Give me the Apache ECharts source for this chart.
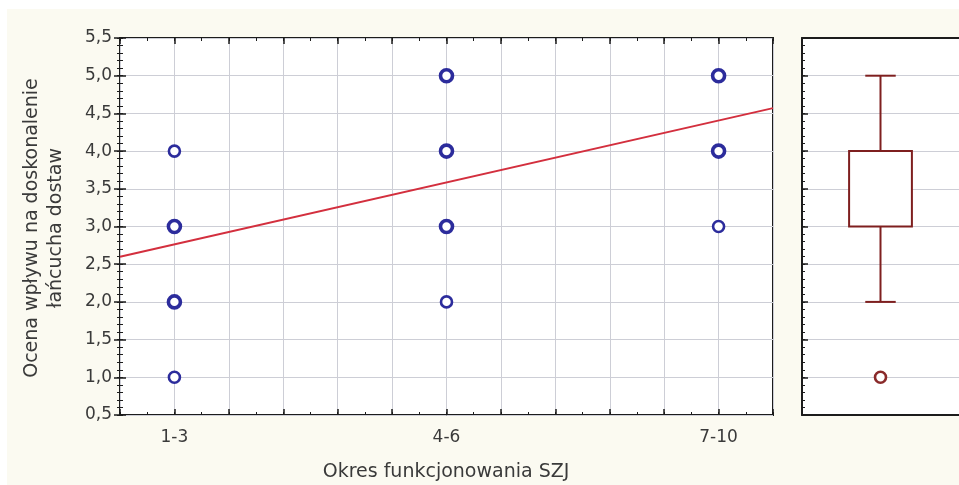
<!DOCTYPE html>
<html>
<head>
<meta charset="utf-8">
<script src="https://cdn.jsdelivr.net/npm/echarts@6/dist/echarts.min.js"></script>
<style>
  html, body { margin: 0; padding: 0; background: #fff; }
  #chart {
    width: 959px; height: 485px;
    background:
      linear-gradient(#fff, #fff) top left / 100% 9px no-repeat,
      linear-gradient(#fff, #fff) top left / 7px 100% no-repeat,
      #fbfaf1;
  }
</style>
</head>
<body>
<div id="chart"></div>
<script>
// Period categories (years of QMS operation) and where they sit on the x scale
const periodLabels = ['1-3', '4-6', '7-10'];
const periodPositions = [1, 6, 11];

// Individual answers: period index, score, number of overlapping answers
const obsPeriod = [0, 0, 0, 0, 1, 1, 1, 1, 2, 2, 2];
const obsScore  = [4, 3, 2, 1, 5, 4, 3, 2, 5, 4, 3];
const obsCount  = [1, 3, 3, 1, 3, 3, 3, 1, 3, 3, 1];

// Fitted linear trend, evaluated at the ends of the x range
const fitX = [0, 12];
const fitY = [2.60, 4.57];

// Box plot of all scores
const boxWhiskers = [2, 5];   // lower, upper whisker
const boxQuartiles = [3, 4];  // Q1, Q3
const boxMedian = 4;
const boxOutliers = [1];

// Value axis
const yMin = 0.5, yMax = 5.5, yStep = 0.5, yMinorStep = 0.1;
const xMin = 0, xMax = 12, xStep = 1, xMinorStep = 0.5;

const FONT = '"DejaVu Sans", "Liberation Sans", Arial, sans-serif';
const TEXT = '#3a3a3a';
const GRIDLINE = '#cdced6';
const FRAME = '#1c1c1c';
const BLUE = '#2c2c9c';
const DARKRED = '#7e1f1f';

const commaFmt = v => v.toFixed(1).replace('.', ',');

const scatterData = obsScore.map((s, i) => {
  const many = obsCount[i] > 1;
  return {
    value: [periodPositions[obsPeriod[i]], s],
    symbolSize: many ? 12 : 11,
    itemStyle: { borderWidth: many ? 3.6 : 2.6 }
  };
});

const tick = (len, w) => ({ show: true, inside: true, length: len, lineStyle: { color: FRAME, width: w } });
const noLine = { show: false };
const frameLine = { show: true, onZero: false, lineStyle: { color: FRAME, width: 2 } };

// Plain tick-only value axis (no labels, no grid lines)
const yTicks = (grid, pos, step, len, w, extra) => Object.assign({
  gridIndex: grid, position: pos, type: 'value', min: yMin, max: yMax, interval: step,
  axisLine: noLine, axisTick: tick(len, w), splitLine: noLine, axisLabel: noLine
}, extra || {});
const xTicks = (pos, step, len, w, extra) => Object.assign({
  gridIndex: 0, position: pos, type: 'value', min: xMin, max: xMax, interval: step,
  axisLine: noLine, axisTick: tick(len, w), splitLine: noLine, axisLabel: noLine
}, extra || {});

const chart = echarts.init(document.getElementById('chart'), null, { renderer: 'canvas' });

chart.setOption({
  animation: false,
  backgroundColor: 'transparent',
  grid: [
    { left: 120, top: 38, width: 653, height: 377, show: true,
      backgroundColor: '#fff', borderColor: FRAME, borderWidth: 2 },
    { left: 802, top: 38, width: 162, height: 377, show: true,
      backgroundColor: '#fff', borderWidth: 0 }
  ],
  xAxis: [
    xTicks('bottom', xStep, 6, 1.5, {
      splitLine: { show: true, lineStyle: { color: GRIDLINE, width: 1 } },
      axisLabel: {
        show: true, margin: 14, fontFamily: FONT, fontSize: 17, color: TEXT,
        formatter: v => { const k = periodPositions.indexOf(v); return k >= 0 ? periodLabels[k] : ''; }
      }
    }),
    xTicks('top', xStep, 6, 1.5),
    { gridIndex: 1, type: 'category', data: [''], position: 'bottom',
      axisLine: frameLine, axisTick: noLine, axisLabel: noLine, splitLine: noLine },
    { gridIndex: 1, type: 'category', data: [''], position: 'top',
      axisLine: frameLine, axisTick: noLine, axisLabel: noLine, splitLine: noLine },
    xTicks('bottom', xMinorStep, 3, 1),
    xTicks('top', xMinorStep, 3, 1)
  ],
  yAxis: [
    yTicks(0, 'left', yStep, 6, 1.5, {
      splitLine: { show: true, lineStyle: { color: GRIDLINE, width: 1 } },
      axisLabel: { show: true, margin: 8, formatter: commaFmt,
        fontFamily: FONT, fontSize: 17, color: TEXT }
    }),
    yTicks(0, 'right', yStep, 6, 1.5),
    yTicks(1, 'left', yStep, 6, 1.5, {
      axisLine: frameLine,
      splitLine: { show: true, lineStyle: { color: GRIDLINE, width: 1 } }
    }),
    yTicks(0, 'left', yMinorStep, 3, 1),
    yTicks(0, 'right', yMinorStep, 3, 1),
    yTicks(1, 'left', yMinorStep, 3, 1)
  ],
  series: [
    {
      type: 'line', xAxisIndex: 0, yAxisIndex: 0,
      data: fitX.map((x, i) => [x, fitY[i]]),
      symbol: 'none', silent: true, z: 3,
      lineStyle: { color: '#d32f3e', width: 2 }
    },
    {
      type: 'scatter', xAxisIndex: 0, yAxisIndex: 0, z: 4,
      data: scatterData,
      symbol: 'circle',
      itemStyle: { color: '#fff', borderColor: BLUE, opacity: 1 }
    },
    {
      type: 'custom', xAxisIndex: 2, yAxisIndex: 2, z: 3,
      data: [[0, boxWhiskers[0], boxQuartiles[0], boxMedian, boxQuartiles[1], boxWhiskers[1]]],
      renderItem: (params, api) => {
        const band = api.size([1, 0])[0];
        const cx = api.coord([api.value(0), 0])[0];
        const yLo = api.coord([0, api.value(1)])[1];
        const yQ1 = api.coord([0, api.value(2)])[1];
        const yMed = api.coord([0, api.value(3)])[1];
        const yQ3 = api.coord([0, api.value(4)])[1];
        const yHi = api.coord([0, api.value(5)])[1];
        const halfBox = band * 0.2;
        const halfCap = band * 0.097;
        const st = { stroke: DARKRED, lineWidth: 2, fill: null };
        return {
          type: 'group',
          children: [
            { type: 'line', shape: { x1: cx, y1: yHi, x2: cx, y2: yQ3 }, style: st },
            { type: 'line', shape: { x1: cx, y1: yQ1, x2: cx, y2: yLo }, style: st },
            { type: 'line', shape: { x1: cx - halfCap, y1: yHi, x2: cx + halfCap, y2: yHi }, style: st },
            { type: 'line', shape: { x1: cx - halfCap, y1: yLo, x2: cx + halfCap, y2: yLo }, style: st },
            { type: 'rect', shape: { x: cx - halfBox, y: yQ3, width: halfBox * 2, height: yQ1 - yQ3 },
              style: { stroke: DARKRED, lineWidth: 2, fill: '#fff' } },
            { type: 'line', shape: { x1: cx - halfBox, y1: yMed, x2: cx + halfBox, y2: yMed }, style: st }
          ]
        };
      }
    },
    {
      type: 'scatter', xAxisIndex: 2, yAxisIndex: 2, z: 4,
      data: boxOutliers.map(v => [0, v]),
      symbol: 'circle', symbolSize: 11,
      itemStyle: { color: '#fff', borderColor: '#8a2a2a', borderWidth: 2.6, opacity: 1 }
    }
  ],
  graphic: [
    { type: 'text', x: 44, y: 228, rotation: Math.PI / 2,
      style: { text: 'Ocena wpływu na doskonalenie\nłańcucha dostaw',
        font: '19px ' + FONT, fill: TEXT, align: 'center', verticalAlign: 'middle', lineHeight: 24 } },
    { type: 'text', x: 446, y: 472,
      style: { text: 'Okres funkcjonowania SZJ',
        font: '19px ' + FONT, fill: TEXT, align: 'center', verticalAlign: 'middle' } }
  ]
});
</script>
</body>
</html>
